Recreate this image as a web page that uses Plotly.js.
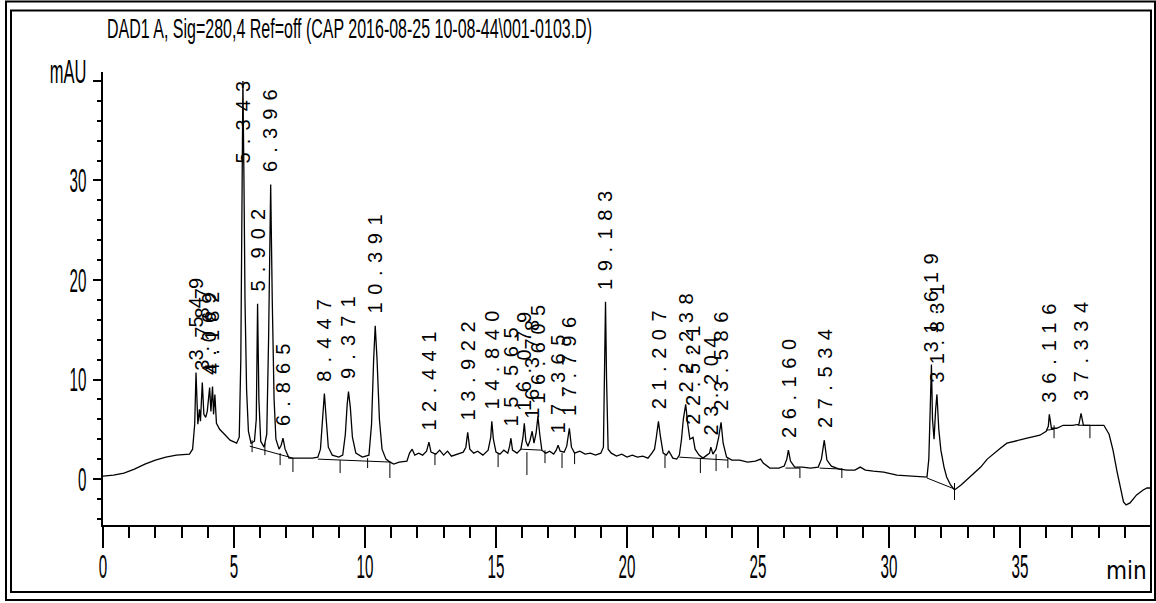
<!DOCTYPE html>
<html>
<head>
<meta charset="utf-8">
<script src="https://cdn.plot.ly/plotly-3.0.1.min.js"></script>
<style>
html,body{margin:0;padding:0;background:#fff;}
#chart{width:1156px;height:603px;}
</style>
</head>
<body>
<div id="chart"></div>
<script>
// ---- chromatogram trace ----
const retentionMin = [
  0,0.4,0.8,1.2,1.6,2.0,2.4,2.8,3.3,3.42,
  3.5,3.55,3.62,3.68,3.72,3.79,3.85,3.92,3.98,4.07,
  4.12,4.18,4.22,4.27,4.33,4.45,4.6,4.85,5.1,5.2,
  5.26,5.3,5.34,5.38,5.42,5.48,5.55,5.65,5.78,5.85,
  5.9,5.95,6.02,6.15,6.25,6.32,6.4,6.46,6.53,6.6,
  6.72,6.8,6.87,6.95,7.1,7.5,8.0,8.2,8.3,8.38,
  8.45,8.52,8.6,8.75,9.0,9.15,9.25,9.32,9.37,9.44,
  9.52,9.65,9.9,10.15,10.25,10.33,10.39,10.46,10.55,10.65,
  10.8,10.95,11.1,11.3,11.6,11.7,11.8,11.9,12.05,12.2,
  12.35,12.44,12.52,12.7,12.85,13.0,13.15,13.3,13.5,13.75,
  13.85,13.92,14.0,14.15,14.3,14.5,14.7,14.8,14.84,14.9,
  15.0,15.15,15.3,15.45,15.52,15.57,15.63,15.8,15.95,16.03,
  16.08,16.14,16.22,16.3,16.38,16.45,16.53,16.6,16.67,16.75,
  16.9,17.05,17.2,17.3,17.37,17.45,17.6,17.7,17.8,17.88,
  18.0,18.2,18.4,18.6,18.8,19.0,19.1,19.15,19.18,19.22,
  19.28,19.4,19.6,19.8,20.0,20.2,20.4,20.6,20.8,20.95,
  21.05,21.12,21.2,21.28,21.38,21.5,21.6,21.75,21.9,22.0,
  22.08,22.15,22.24,22.32,22.4,22.52,22.6,22.75,22.9,23.05,
  23.15,23.2,23.28,23.4,23.5,23.59,23.67,23.8,24.0,24.3,
  24.6,24.9,25.1,25.2,25.45,25.8,26.0,26.1,26.16,26.24,
  26.4,26.7,27.0,27.3,27.42,27.53,27.63,27.8,28.1,28.4,
  28.7,28.9,29.1,29.4,29.8,30.3,30.8,31.45,31.52,31.58,
  31.62,31.66,31.72,31.78,31.83,31.9,31.98,32.1,32.2,32.35,
  32.5,32.75,32.97,33.25,33.5,33.75,34.0,34.25,34.5,34.9,
  35.27,35.76,36.0,36.08,36.12,36.2,36.4,36.65,37.0,37.25,
  37.33,37.42,37.8,38.2,38.4,38.55,38.7,38.8,38.95,39.05,
  39.2,39.45,39.7,39.85,40
];
const absorbanceMAU = [
  0.3,0.4,0.6,1.0,1.5,1.9,2.2,2.4,2.5,3.0,
  5.5,10.7,5.5,7.0,5.8,9.7,6.5,6.2,6.8,9.2,
  6.8,9.3,6.5,8.5,5.6,5.0,4.6,3.9,3.6,4.2,
  12,28,40,30,18,9,4.8,3.6,3.8,6,
  17.6,8,3.8,3.2,4.5,14,29.6,18,8,4,
  3.0,3.4,4.1,3.0,2.1,2.1,2.1,2.2,3,6,
  8.6,6,3.2,2.4,2.2,2.4,4.5,7.5,8.8,7.2,
  4.2,2.6,2.2,2.4,5.5,12,15.4,12,6,3,
  2.0,1.7,1.5,1.7,1.8,2.6,3.0,2.4,2.6,2.4,
  2.8,3.7,2.7,2.5,2.9,2.4,2.8,2.3,2.5,2.7,
  3.2,4.7,3.0,2.6,2.8,2.4,2.9,4.2,5.8,4.0,
  2.7,2.5,2.9,2.6,3.3,4.1,2.9,2.6,3.0,4.2,
  5.6,3.8,3.3,3.9,4.8,3.6,4.6,6.3,4.5,2.9,
  2.6,2.8,2.5,2.9,3.4,2.8,2.7,3.3,5.1,3.2,
  2.6,2.8,2.5,2.6,2.4,2.6,3.2,10,17.8,10,
  3.0,2.6,2.3,2.5,2.2,2.4,2.2,2.3,2.1,2.6,
  3.0,4.2,5.8,4.2,2.6,2.4,2.8,2.1,2.0,2.4,
  4,6,7.5,5.5,4.0,4.2,3.0,2.4,2.1,2.4,
  2.6,3.2,2.5,3.0,4.2,5.7,3.6,2.2,1.9,1.9,
  1.7,1.8,2.0,1.6,1.1,1.1,1.3,2.0,2.9,1.8,
  1.2,1.2,1.1,1.2,2.0,3.9,1.9,1.3,1.0,0.9,
  0.9,1.2,0.9,0.8,0.7,0.4,0.3,0.2,2,8,
  11.5,6,4,7,8.5,5,2.9,1.2,0.2,-0.6,
  -1.1,-0.6,-0.1,0.6,1.2,2.0,2.6,3.1,3.6,3.9,
  4.1,4.4,4.8,5.3,6.5,5.1,5.1,5.4,5.4,5.5,
  6.6,5.4,5.4,5.4,4.5,2.9,0.8,-0.4,-2.3,-2.6,
  -2.4,-1.6,-1.1,-0.9,-0.9
];

// ---- peak labels ----
const peakLabels = ['3.549','3.787','4.069','4.182','5.343','5.902','6.396','6.865','8.447','9.371',
  '10.391','12.441','13.922','14.840','15.565','16.079','16.378','16.605','17.365','17.796',
  '19.183','21.207','22.238','22.521','23.204','23.586','26.160','27.534','31.619','31.831',
  '36.116','37.334'];
const peakTimes = [3.549,3.787,4.069,4.182,5.343,5.902,6.396,6.865,8.447,9.371,
  10.391,12.441,13.922,14.840,15.565,16.079,16.378,16.605,17.365,17.796,
  19.183,21.207,22.238,22.521,23.204,23.586,26.160,27.534,31.619,31.831,
  36.116,37.334];
const peakHeights = [10.7,9.7,9.2,9.3,40,17.6,29.6,4.1,8.6,8.8,
  15.4,3.7,4.7,5.8,4.1,5.6,4.8,6.3,3.4,5.1,
  17.8,5.8,7.5,4.2,3.2,5.7,2.9,3.9,11.5,8.5,
  6.5,6.6];

// ---- integration baselines and boundary marks ----
const baseStartT = [5.6, 8.2, 15.95, 22.0, 26.05, 27.35, 31.45, 36.0, 37.2];
const baseStartV = [3.3, 2.0, 3.0, 2.2, 1.1, 1.1, 0.1, 4.9, 5.4];
const baseEndT   = [7.25, 11.0, 16.75, 23.85, 26.6, 28.2, 32.5, 36.3, 37.67];
const baseEndV   = [2.1, 1.7, 2.9, 1.9, 1.1, 1.0, -1.0, 5.0, 5.4];

const markT   = [5.69,6.18,6.76,7.25,9.05,10.1,10.95,12.67,15.08,16.18,16.87,17.52,18.0,21.45,22.8,23.4,23.85,26.6,28.2,32.5,36.3,37.67];
const markTop = [3.9,3.6,2.6,2.1,1.9,2.1,1.6,2.6,2.6,2.7,2.9,2.6,2.6,2.4,2.1,2.5,2.1,1.1,1.1,-0.4,5.4,5.4];
const markBot = [2.7,2.4,1.4,0.7,0.6,1.1,0.1,1.4,1.2,0.4,1.6,1.1,1.5,1.1,0.6,0.8,1.1,0.1,0.1,-2.1,4.1,4.1];

// ---- axis ticks ----
const xTickVals = [0,5,10,15,20,25,30,35];
const xTickText = ['0','5','10','15','20','25','30','35'];
const yTickVals = [0,10,20,30,40];
const yTickText = ['0','10','20','30',''];

const titleText = 'DAD1 A, Sig=280,4 Ref=off (CAP 2016-08-25 10-08-44\\001-0103.D)';

// build helper traces
const baseX = [], baseY = [];
baseStartT.forEach((t,i)=>{ baseX.push(t, baseEndT[i], null); baseY.push(baseStartV[i], baseEndV[i], null); });
const markX = [], markY = [];
markT.forEach((t,i)=>{ markX.push(t, t, null); markY.push(markTop[i], markBot[i], null); });

const data = [
  {type:'scatter', mode:'lines', x: retentionMin, y: absorbanceMAU, line:{color:'#000', width:1.3}, hoverinfo:'skip'},
  {type:'scatter', mode:'lines', x: baseX, y: baseY, line:{color:'#000', width:1}, hoverinfo:'skip', connectgaps:false},
  {type:'scatter', mode:'lines', x: markX, y: markY, line:{color:'#000', width:1}, hoverinfo:'skip', connectgaps:false}
];

const FONT = 'Liberation Sans, Arial, Helvetica, sans-serif';
const NARROW = 'Liberation Sans Narrow, DejaVu Sans Condensed, Liberation Sans, sans-serif';
const labelPxPerChar = 16.5, labelGap = 12, labelCap = 30.5;

const stretch = [];
const annotations = peakLabels.map((lab,i)=>{
  const L = labelPxPerChar * lab.length;
  stretch.push({len:L, adjust:'spacing'});
  return {x: peakTimes[i], y: Math.min(peakHeights[i], labelCap), xref:'x', yref:'y', text: lab,
    showarrow:false, textangle:-90, xanchor:'center', yanchor:'middle', yshift: labelGap + L/2,
    font:{family:FONT, size:20, color:'#000'}, borderpad:0};
});
annotations.push({text:'mAU', xref:'paper', yref:'paper', x:(87-103)/1048, y:(525-71)/453,
  xanchor:'right', yanchor:'middle', align:'right', showarrow:false, borderpad:0,
  font:{family:FONT, size:33, color:'#000'}});
stretch.push({factor:0.5, adjust:'spacingAndGlyphs'});
annotations.push({text:'min', xref:'paper', yref:'paper', x:(1148-103)/1048, y:(525-571)/453,
  xanchor:'right', yanchor:'middle', align:'right', showarrow:false, borderpad:0,
  font:{family:NARROW, size:24, color:'#000'}});
stretch.push(null);

const px = v => (v-103)/1048, py = v => (525-v)/453;
const shapes = [
  {type:'rect', xref:'paper', yref:'paper', x0:px(6), x1:px(1155), y0:py(600), y1:py(1.5), line:{color:'#000', width:2}, layer:'above'},
  {type:'rect', xref:'paper', yref:'paper', x0:px(11), x1:px(1151), y0:py(592), y1:py(10.5), line:{color:'#000', width:2}, layer:'above'}
];

const layout = {
  width:1156, height:603,
  margin:{l:103, r:5, t:72, b:78, pad:0},
  paper_bgcolor:'#fff', plot_bgcolor:'#fff',
  showlegend:false,
  title:{text:titleText, font:{family:FONT, size:27, color:'#000'}, xref:'paper', x:px(107), xanchor:'left',
    yref:'container', y:1-29/603, yanchor:'middle'},
  xaxis:{range:[0,40], showgrid:false, zeroline:false, showline:true, linecolor:'#000', linewidth:2,
    ticks:'outside', ticklen:21, tickwidth:2, tickcolor:'#000', tickmode:'array', tickvals:xTickVals, ticktext:xTickText,
    tickfont:{family:FONT, size:33, color:'#000'}, ticklabelstandoff:-10,
    minor:{tickmode:'linear', tick0:0, dtick:1, ticks:'outside', ticklen:11, tickwidth:2, tickcolor:'#000', showgrid:false},
    fixedrange:true},
  yaxis:{range:[-4.62,40.9], showgrid:false, zeroline:false, showline:true, linecolor:'#000', linewidth:2,
    ticks:'outside', ticklen:8, tickwidth:2, tickcolor:'#000', tickmode:'array', tickvals:yTickVals, ticktext:yTickText,
    tickfont:{family:FONT, size:33, color:'#000'},
    minor:{tickmode:'linear', tick0:0, dtick:2, ticks:'outside', ticklen:4, tickwidth:2, tickcolor:'#000', showgrid:false},
    fixedrange:true},
  annotations: annotations,
  shapes: shapes
};

function squeeze(el, target, adjust){
  if(!el) return;
  const w = el.getComputedTextLength();
  if(w > 0 && target > 0){
    el.setAttribute('textLength', target.toFixed(2));
    el.setAttribute('lengthAdjust', adjust);
  }
}

Plotly.newPlot('chart', data, layout, {staticPlot:true, displayModeBar:false, responsive:false}).then(gd=>{
  try{
    gd.querySelectorAll('.xtick text, .ytick text').forEach(t=>{
      squeeze(t, t.getComputedTextLength()*0.46, 'spacingAndGlyphs');
    });
    const tt = gd.querySelector('.gtitle');
    if(tt) squeeze(tt, 485, 'spacingAndGlyphs');
    gd.querySelectorAll('g.annotation').forEach(g=>{
      const i = +g.getAttribute('data-index');
      const s = stretch[i];
      const t = g.querySelector('text.annotation-text');
      if(!s || !t) return;
      if(s.len) squeeze(t, s.len, s.adjust);
      else squeeze(t, t.getComputedTextLength()*s.factor, s.adjust);
    });
  }catch(e){ console.error(e); }
});
</script>
</body>
</html>
